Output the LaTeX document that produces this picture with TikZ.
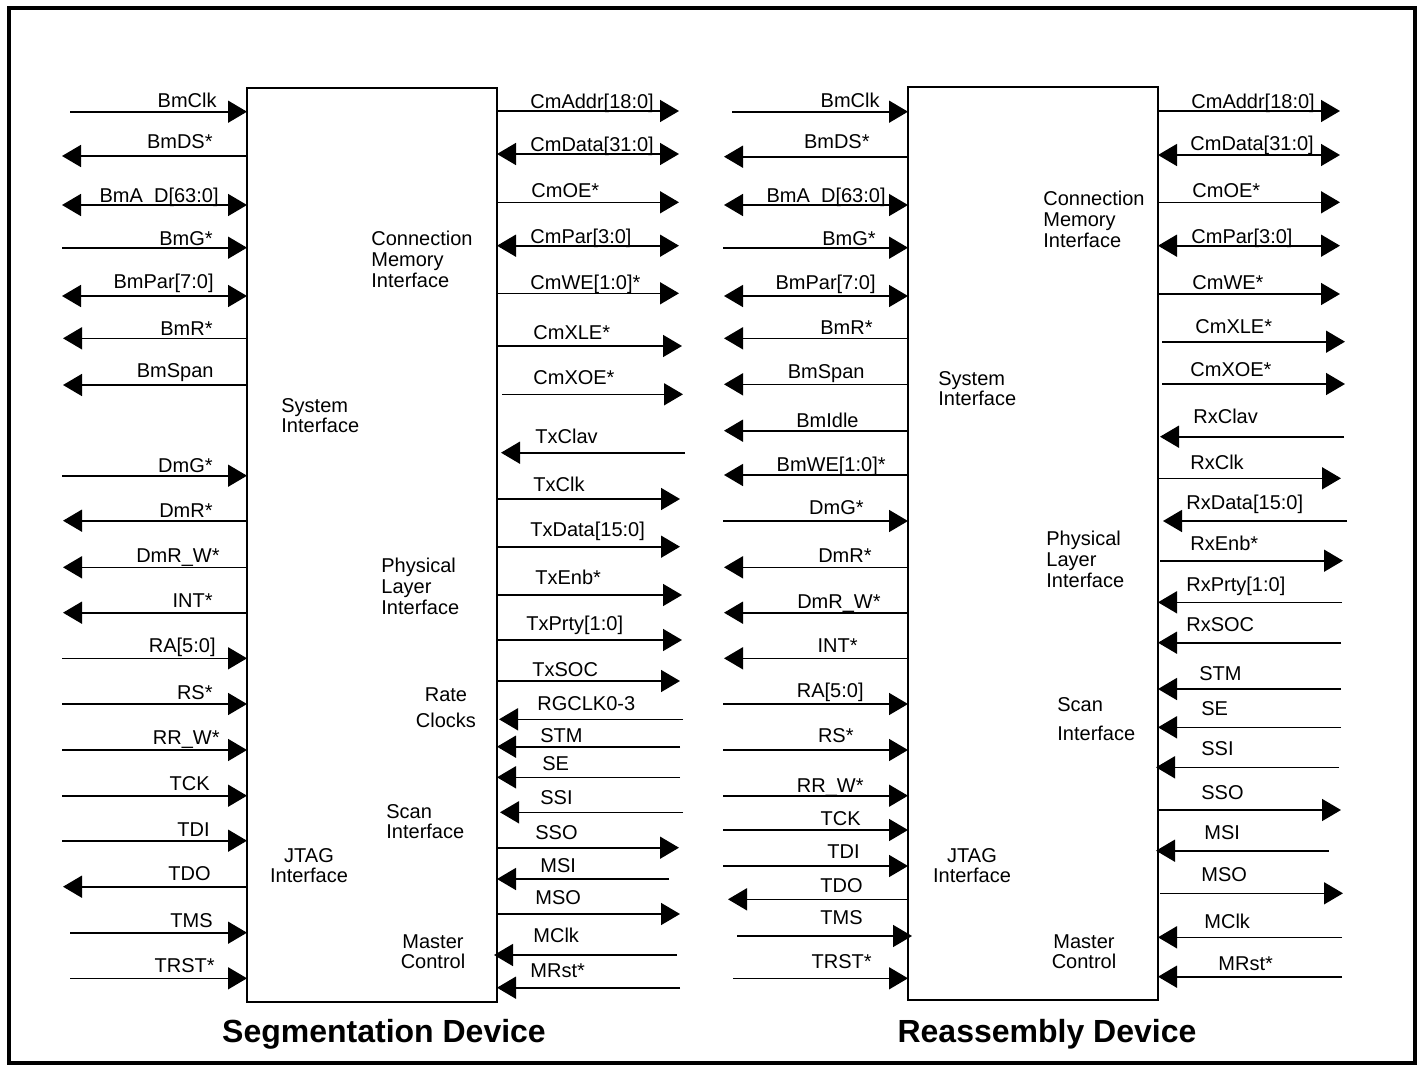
\documentclass[tikz,border=0pt]{standalone}
\usepackage{fontspec}
\setmainfont{Liberation Sans}
\usetikzlibrary{arrows.meta,calc}

\tikzset{
  sig/.style={line width=0.8pt},
  toblk/.style={-{Triangle[length=9.5pt,width=11pt]}},
  fromblk/.style={{Triangle[length=9.5pt,width=11pt]}-},
  bidir/.style={{Triangle[length=9.5pt,width=11pt]}-{Triangle[length=9.5pt,width=11pt]}},
  lbl/.style={inner sep=0pt, text height=7.2pt, text depth=0pt, font=\fontsize{10}{10}\selectfont},
  blk/.style={draw, line width=1.1pt, inner sep=0pt, outer sep=0pt, minimum width=125pt, anchor=north west},
  part/.style={inner sep=0pt, font=\fontsize{10}{10.3}\selectfont},
  devtitle/.style={inner sep=0pt, text height=11.5pt, text depth=0pt, font=\fontsize{16}{16}\selectfont\bfseries},
}

% pin on the left side of a block: name, kind, line y, free x, block, text, text right x, text mid y, shift at block
\newcommand\pinL[9]{%
  \coordinate (#1) at (#4,#3);
  \draw[sig,#2] (#1) -- ($(#1 -| #5.west)+(#9,0)$);
  \node[lbl,anchor=east] (#1-t) at (#7,#8) {#6};
}
% pin on the right side of a block: name, kind, line y, free x, block, text, text left x, text mid y, shift at block
\newcommand\pinR[9]{%
  \coordinate (#1) at (#4,#3);
  \draw[sig,#2] (#1) -- ($(#1 -| #5.east)+(#9,0)$);
  \node[lbl,anchor=west] (#1-t) at (#7,#8) {#6};
}

\begin{document}
\begin{tikzpicture}[x=0.5pt,y=-0.5pt]
\useasboundingbox (0,0) rectangle (1421,1066);
\draw[line width=2pt] (8.5,8) rectangle (1414.5,1063);

% ---------------- Segmentation device ----------------
\node[blk, minimum height=457pt] (seg) at (247,88) {};

\pinL{aBmClk}{toblk}{111.7}{70}{seg}{BmClk}{217}{100}{0}
\pinL{aBmDS}{fromblk}{156}{62}{seg}{BmDS*}{213}{141}{0}
\pinL{aBmAD}{bidir}{205}{62}{seg}{BmA\_D[63:0]}{219}{195}{0}
\pinL{aBmG}{toblk}{247.7}{62}{seg}{BmG*}{213}{238}{0}
\pinL{aBmPar}{bidir}{296}{62}{seg}{BmPar[7:0]}{214}{281}{0}
\pinL{aBmR}{fromblk}{338.3}{63}{seg}{BmR*}{213}{328}{0}
\pinL{aBmSpan}{fromblk}{385}{63}{seg}{BmSpan}{214}{370}{0}
\pinL{aDmG}{toblk}{475.7}{62}{seg}{DmG*}{213}{465}{0}
\pinL{aDmR}{fromblk}{520.7}{63}{seg}{DmR*}{213}{510}{0}
\pinL{aDmRW}{fromblk}{567.3}{63}{seg}{DmR\_W*}{220}{555}{0}
\pinL{aINT}{fromblk}{612.7}{63}{seg}{INT*}{213}{600}{0}
\pinL{aRA}{toblk}{658.3}{62}{seg}{RA[5:0]}{216}{645}{0}
\pinL{aRS}{toblk}{704}{62}{seg}{RS*}{213}{692}{0}
\pinL{aRRW}{toblk}{750}{62}{seg}{RR\_W*}{220}{737}{0}
\pinL{aTCK}{toblk}{795.7}{62}{seg}{TCK}{210}{783}{0}
\pinL{aTDI}{toblk}{840.7}{62}{seg}{TDI}{210}{829}{0}
\pinL{aTDO}{fromblk}{886.7}{63}{seg}{TDO}{211}{873}{0}
\pinL{aTMS}{toblk}{932.7}{70}{seg}{TMS}{213}{920}{0}
\pinL{aTRST}{toblk}{978.3}{70}{seg}{TRST*}{215}{965}{0}

\pinR{bCmAddr}{fromblk}{111}{679}{seg}{CmAddr[18:0]}{530}{101}{0}
\pinR{bCmData}{bidir}{154}{679}{seg}{CmData[31:0]}{530}{144}{0}
\pinR{bCmOE}{fromblk}{202.3}{679}{seg}{CmOE*}{531}{190}{0}
\pinR{bCmPar}{bidir}{245.7}{679}{seg}{CmPar[3:0]}{530}{236}{0}
\pinR{bCmWE}{fromblk}{293.3}{679}{seg}{CmWE[1:0]*}{530}{282}{0}
\pinR{bCmXLE}{fromblk}{346}{682}{seg}{CmXLE*}{533}{332}{1}
\pinR{bCmXOE}{fromblk}{394.3}{683}{seg}{CmXOE*}{533}{377}{5}
\pinR{bTxClav}{toblk}{452.7}{685}{seg}{TxClav}{535}{436}{4}
\pinR{bTxClk}{fromblk}{499}{680}{seg}{TxClk}{533}{484}{0}
\pinR{bTxData}{fromblk}{546.7}{680}{seg}{TxData[15:0]}{530}{529}{0}
\pinR{bTxEnb}{fromblk}{595}{682}{seg}{TxEnb*}{535}{577}{1}
\pinR{bTxPrty}{fromblk}{640}{682}{seg}{TxPrty[1:0]}{526}{623}{0}
\pinR{bTxSOC}{fromblk}{681}{680}{seg}{TxSOC}{532}{669}{0}
\pinR{bRGCLK}{toblk}{719.3}{683}{seg}{RGCLK0-3}{537}{703}{2}
\pinR{bSTM}{toblk}{746.7}{680}{seg}{STM}{540}{735}{0}
\pinR{bSE}{toblk}{777.3}{680}{seg}{SE}{542}{763}{0}
\pinR{bSSI}{toblk}{812.3}{683}{seg}{SSI}{540}{797}{3}
\pinR{bSSO}{fromblk}{847.7}{679}{seg}{SSO}{535}{832}{0}
\pinR{bMSI}{toblk}{879}{669}{seg}{MSI}{540}{865}{0}
\pinR{bMSO}{fromblk}{914}{680}{seg}{MSO}{535}{897}{0}
\pinR{bMClk}{toblk}{955}{677}{seg}{MClk}{533}{935}{-3}
\pinR{bMRst}{toblk}{987.7}{680}{seg}{MRst*}{530}{970}{0}

\node[part, align=left, anchor=north west] (segCM) at (371,231) {Connection\\Memory\\Interface};
\node[part, align=left, anchor=north west] (segSys) at (281,398) {System\\Interface};
\node[part, align=left, anchor=north west] (segPhy) at (381,558) {Physical\\Layer\\Interface};
\node[part, align=center, anchor=north] (segRate) at (446,687) {Rate\\[3pt]Clocks};
\node[part, align=left, anchor=north west] (segScan) at (386,804) {Scan\\Interface};
\node[part, align=center, anchor=north] (segJtag) at (309,848) {JTAG\\Interface};
\node[part, align=center, anchor=north] (segMast) at (433,934) {Master\\Control};

\node[devtitle] (segTitle) at (384,1031) {Segmentation Device};

% ---------------- Reassembly device ----------------
\node[blk, minimum height=456.5pt] (rea) at (908,87) {};

\pinL{cBmClk}{toblk}{111.7}{732}{rea}{BmClk}{880}{100}{0}
\pinL{cBmDS}{fromblk}{156.7}{724}{rea}{BmDS*}{870}{141}{0}
\pinL{cBmAD}{bidir}{205}{724}{rea}{BmA\_D[63:0]}{886}{195}{0}
\pinL{cBmG}{toblk}{247.7}{723}{rea}{BmG*}{876}{238}{0}
\pinL{cBmPar}{bidir}{296}{724}{rea}{BmPar[7:0]}{876}{282}{0}
\pinL{cBmR}{fromblk}{338.3}{724}{rea}{BmR*}{873}{327}{0}
\pinL{cBmSpan}{fromblk}{384.3}{724}{rea}{BmSpan}{865}{371}{0}
\pinL{cBmIdle}{fromblk}{430.7}{724}{rea}{BmIdle}{859}{420}{0}
\pinL{cBmWE}{fromblk}{475}{724}{rea}{BmWE[1:0]*}{886}{464}{0}
\pinL{cDmG}{toblk}{521}{723}{rea}{DmG*}{864}{507}{0}
\pinL{cDmR}{fromblk}{567.3}{724}{rea}{DmR*}{872}{555}{0}
\pinL{cDmRW}{fromblk}{612.7}{724}{rea}{DmR\_W*}{881}{601}{0}
\pinL{cINT}{fromblk}{658.3}{724}{rea}{INT*}{858}{645}{0}
\pinL{cRA}{toblk}{704}{723}{rea}{RA[5:0]}{864}{690}{0}
\pinL{cRS}{toblk}{750}{723}{rea}{RS*}{854}{735}{0}
\pinL{cRRW}{toblk}{795.7}{723}{rea}{RR\_W*}{864}{785}{0}
\pinL{cTCK}{toblk}{830}{723}{rea}{TCK}{861}{818}{0}
\pinL{cTDI}{toblk}{866}{723}{rea}{TDI}{860}{851}{0}
\pinL{cTDO}{fromblk}{899.3}{728}{rea}{TDO}{863}{885}{0}
\pinL{cTMS}{toblk}{936}{737}{rea}{TMS}{863}{917}{4}
\pinL{cTRST}{toblk}{978.3}{733}{rea}{TRST*}{872}{961}{0}

\pinR{dCmAddr}{fromblk}{111}{1340}{rea}{CmAddr[18:0]}{1191}{101}{0}
\pinR{dCmData}{bidir}{155}{1340}{rea}{CmData[31:0]}{1190}{143}{0}
\pinR{dCmOE}{fromblk}{202.3}{1340}{rea}{CmOE*}{1192}{190}{0}
\pinR{dCmPar}{bidir}{245.7}{1340}{rea}{CmPar[3:0]}{1191}{236}{0}
\pinR{dCmWE}{fromblk}{294}{1340}{rea}{CmWE*}{1192}{282}{0}
\pinR{dCmXLE}{fromblk}{341.7}{1345}{rea}{CmXLE*}{1195}{326}{4}
\pinR{dCmXOE}{fromblk}{384}{1345}{rea}{CmXOE*}{1190}{369}{4}
\pinR{dRxClav}{toblk}{436.7}{1344}{rea}{RxClav}{1193}{416}{2}
\pinR{dRxClk}{fromblk}{478.3}{1341}{rea}{RxClk}{1190}{462}{0}
\pinR{dRxData}{toblk}{521}{1347}{rea}{RxData[15:0]}{1186}{502}{5}
\pinR{dRxEnb}{fromblk}{560.7}{1343}{rea}{RxEnb*}{1190}{543}{2}
\pinR{dRxPrty}{toblk}{602.3}{1342}{rea}{RxPrty[1:0]}{1186}{584}{0}
\pinR{dRxSOC}{toblk}{642.7}{1341}{rea}{RxSOC}{1186}{624}{0}
\pinR{dSTM}{toblk}{689}{1341}{rea}{STM}{1199}{673}{0}
\pinR{dSE}{toblk}{727.3}{1341}{rea}{SE}{1201}{708}{0}
\pinR{dSSI}{toblk}{767.3}{1339}{rea}{SSI}{1201}{748}{-2}
\pinR{dSSO}{fromblk}{810}{1341}{rea}{SSO}{1201}{792}{0}
\pinR{dMSI}{toblk}{850.7}{1329}{rea}{MSI}{1204}{832}{-2}
\pinR{dMSO}{fromblk}{893.3}{1343}{rea}{MSO}{1201}{874}{2}
\pinR{dMClk}{toblk}{937.3}{1342}{rea}{MClk}{1204}{921}{0}
\pinR{dMRst}{toblk}{976.7}{1342}{rea}{MRst*}{1218}{963}{0}

\node[part, align=left, anchor=north west] (reaCM) at (1043,191) {Connection\\Memory\\Interface};
\node[part, align=left, anchor=north west] (reaSys) at (938,371) {System\\Interface};
\node[part, align=left, anchor=north west] (reaPhy) at (1046,531) {Physical\\Layer\\Interface};
\node[part, align=left, anchor=north west] (reaScan) at (1057,697) {Scan\\[4.5pt]Interface};
\node[part, align=center, anchor=north] (reaJtag) at (972,848) {JTAG\\Interface};
\node[part, align=center, anchor=north] (reaMast) at (1084,934) {Master\\Control};

\node[devtitle] (reaTitle) at (1047,1031) {Reassembly Device};
\end{tikzpicture}
\end{document}
